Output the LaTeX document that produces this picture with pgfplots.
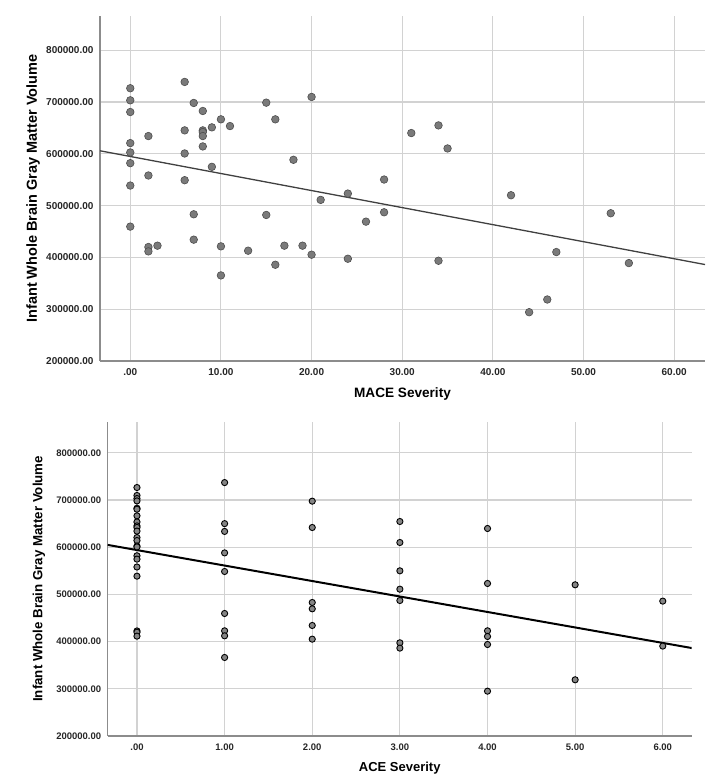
\documentclass[border=0pt]{standalone}
\usepackage{fontspec}
\setmainfont{Liberation Sans}
\usepackage{pgfplots}
\pgfplotsset{compat=1.18}
\definecolor{gridc}{HTML}{D2D2D2}
\definecolor{axc}{HTML}{8C8C8C}
\definecolor{ptfill}{HTML}{7A7A7A}
\definecolor{ptfillb}{HTML}{858585}
\begin{document}
\begin{tikzpicture}
\useasboundingbox (0pt,0pt) rectangle (722pt,775pt);
\pgfplotsset{myaxis/.style={
  scale only axis,
  axis x line=bottom, axis y line=left,
  axis line style={-, axc, line width=1.3pt},
  grid=major, major grid style={gridc, line width=1.1pt},
  major tick length=0pt,
  scaled ticks=false,
  ymin=200000, ymax=866000,
  ytick={200000,300000,400000,500000,600000,700000,800000},
  yticklabels={200000.00,300000.00,400000.00,500000.00,600000.00,700000.00,800000.00},
  tick label style={text=black!85},
  yticklabel style={xshift=-3pt},
  xticklabel style={yshift=-4pt},
  label style={font=\bfseries, text=black},
}}
% ---------------- top: MACE ----------------
\begin{axis}[myaxis,
  at={(100pt,414pt)}, anchor=south west,
  width=605pt, height=345pt,
  xmin=-3.34, xmax=63.4,
  xtick={0,10,20,30,40,50,60},
  xticklabels={.00,10.00,20.00,30.00,40.00,50.00,60.00},
  tick label style={font=\fontsize{10}{12}\selectfont\bfseries},
  xlabel={MACE Severity},
  ylabel={Infant Whole Brain Gray Matter Volume},
  xlabel style={font=\fontsize{13.6}{16}\selectfont\bfseries, at={(axis description cs:0.5,-0.0957)}, anchor=center},
  ylabel style={font=\fontsize{14.5}{17}\selectfont\bfseries, at={(axis description cs:-0.1107,0.5)}, anchor=center},
]
\addplot[color=black!75, line width=1.3pt] coordinates {(-3.34,605800) (63.4,386200)};
\addplot[only marks, mark=*, mark size=3.8pt, mark options={fill=ptfill, draw=black!70, line width=0.6pt}] coordinates {
(0,726500) (0,703200) (0,680600) (0,620600) (0,602600) (0,581900) (0,538700) (0,459400)
(2,634200) (2,558100) (2,420000) (2,411600) (3,422600)
(6,738700) (6,645200) (6,600600) (6,549000)
(7,698100) (7,483200) (7,434200)
(8,682600) (8,645200) (8,642000) (8,634200) (8,614200)
(9,651000) (9,574800)
(10,666500) (10,421300) (10,365200)
(11,653500) (13,412900)
(15,698700) (15,481900)
(16,666500) (16,385800)
(17,422600) (18,588400) (19,422600)
(20,709700) (20,405200) (21,511000)
(24,523200) (24,397400) (26,469000) (28,550300) (28,487100)
(31,640000) (34,654800) (35,610300) (34,393500)
(42,520000) (47,410300) (53,485200) (55,389000) (46,318700) (44,294200)
};
\end{axis}
% ---------------- bottom: ACE ----------------
\begin{axis}[myaxis,
  at={(107.7pt,39pt)}, anchor=south west,
  width=584pt, height=314.3pt,
  xmin=-0.334, xmax=6.33,
  xtick={0,1,2,3,4,5,6},
  xticklabels={.00,1.00,2.00,3.00,4.00,5.00,6.00},
  tick label style={font=\fontsize{9.5}{11}\selectfont\bfseries},
  xlabel={ACE Severity},
  ylabel={Infant Whole Brain Gray Matter Volume},
  xlabel style={font=\fontsize{13}{15}\selectfont\bfseries, at={(axis description cs:0.5,-0.1018)}, anchor=center},
  ylabel style={font=\fontsize{13.3}{15}\selectfont\bfseries, at={(axis description cs:-0.1176,0.5)}, anchor=center},
]
\addplot[color=black, line width=2pt] coordinates {(-0.334,604900) (6.33,386400)};
\addplot[only marks, mark=*, mark size=3.1pt, mark options={fill=ptfillb, draw=black, line width=0.9pt}] coordinates {
(0,726500) (0,709700) (0,703200) (0,698100) (0,682600) (0,680600) (0,666500) (0,653500)
(0,645200) (0,642000) (0,634200) (0,620600) (0,614200) (0,602600) (0,600600) (0,581900)
(0,574800) (0,558100) (0,538700) (0,422600) (0,420000) (0,411600)
(1,737000) (1,650000) (1,633500) (1,588000) (1,548600) (1,459600) (1,422900) (1,412300) (1,366400)
(2,697600) (2,641800) (2,482900) (2,469500) (2,434200) (2,405200)
(3,654500) (3,610000) (3,550000) (3,511100) (3,487100) (3,397500) (3,386200)
(4,639700) (4,523200) (4,422900) (4,410900) (4,393900) (4,295000)
(5,520400) (5,319100)
(6,485800) (6,390500)
};
\end{axis}
\end{tikzpicture}
\end{document}
